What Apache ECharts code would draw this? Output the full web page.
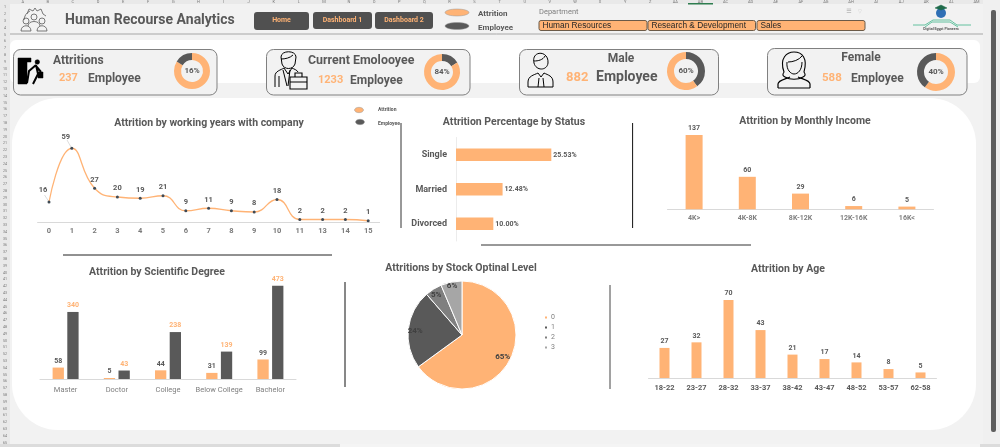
<!DOCTYPE html>
<html>
<head>
<meta charset="utf-8">
<title>Human Recourse Analytics</title>
<script src="https://cdn.jsdelivr.net/npm/echarts@6/dist/echarts.min.js"></script>
<style>
html, body { margin: 0; padding: 0; background: #f2f2f2; }
#main { width: 1000px; height: 447px; }
</style>
</head>
<body>
<div id="main"></div>
<script>
// data
var yearLabels = ['0','1','2','3','4','5','6','7','8','9','10','11','13','14','15'];
var yearValues = [16,59,27,20,19,21,9,11,9,8,18,2,2,2,1];
var statusLabels = ['Single','Married','Divorced'];
var statusValues = [25.53,12.48,10.00];
var incomeLabels = ['4K>','4K-8K','8K-12K','12K-16K','16K<'];
var incomeValues = [137,60,29,6,5];
var degreeLabels = ['Master','Doctor','College','Below College','Bachelor'];
var degreeAttrition = [58,5,44,31,99];
var degreeEmployee = [340,43,238,139,473];
var stockLabels = ['0','1','2','3'];
var stockValues = [154,56,12,15];
var ageLabels = ['18-22','23-27','28-32','33-37','38-42','43-47','48-52','53-57','62-58'];
var ageValues = [27,32,70,43,21,17,14,8,5];
var attritionTotal = 237;
var currentTotal = 1233;
var maleTotal = 882;
var femaleTotal = 588;
var departments = ['Human Resources','Research & Development','Sales'];

var ORANGE = '#FFB375';
var DARK = '#595959';
var FONT = 'Roboto';

var g = [];
var icons = [];
function rect(x, y, w, h, fill, r, stroke) {
	g.push({ type: 'rect', shape: { x: x, y: y, width: w, height: h, r: r || 0 }, style: { fill: fill, stroke: stroke || null, lineWidth: stroke ? 1 : 0 }, silent: true });
}
function line(x1, y1, x2, y2, color, w) {
	g.push({ type: 'line', shape: { x1: x1, y1: y1, x2: x2, y2: y2 }, style: { stroke: color, lineWidth: w || 1 }, silent: true });
}
function text(str, x, y, size, color, weight, align, font) {
	g.push({ type: 'text', x: x, y: y, z: 10, style: { text: str, fill: color, font: (weight || 'normal') + ' ' + size + 'px ' + (font || FONT), textAlign: align || 'left', textVerticalAlign: 'middle' }, silent: true });
}
function ellipse(cx, cy, rx, ry, fill) {
	g.push({ type: 'ellipse', shape: { cx: cx, cy: cy, rx: rx, ry: ry }, style: { fill: fill, stroke: '#9a9a9a', lineWidth: 0.5 }, silent: true });
}
// line-art icons are drawn by a custom series, graphic has no raw path type
function icon(d, color, fill, w) {
	icons.push({ d: d, color: color, fill: fill || 'none', w: w || 1 });
}

// white sheet areas
rect(10, 40, 970, 43, '#ffffff', 6);
rect(12, 98, 964, 332, '#ffffff', 46);

// excel chrome
rect(0, 0, 1000, 4, '#e9e9e9');
rect(0, 0, 10, 447, '#e9e9e9');
rect(688, 3, 25, 1.5, '#2e7d4f');
rect(983, 0, 17, 447, '#f0f0f0');
rect(991, 10, 5, 422, '#5f5f5f', 2);
rect(0, 444, 1000, 3, '#dcdcdc');
rect(340, 444, 640, 3, '#f4f4f4');
var colNames = 'A,B,C,D,E,F,G,H,I,J,K,L,M,N,O,P,Q,R,S,T,U,V,W,X,Y,Z,AA,AB,AC,AD,AE,AF,AG,AH,AI,AJ,AK,AL,AM'.split(',');
colNames.forEach(function (n, i) {
	text(n, 22.7 + i * 25.1, 2, 4, '#777777', 'normal', 'center');
});
for (var r = 1; r <= 65; r++) {
	text(String(r), 5, 7.4 + (r - 1) * 6.8, 3.6, '#777777', 'normal', 'center');
}

// header band
line(10, 34, 983, 34, '#a6a6a6', 1);
text('Human Recourse Analytics', 65, 20.5, 14, DARK, 'bold');
rect(254, 12, 55, 18, '#505050', 3);
rect(313, 12, 59, 17, '#505050', 3);
rect(375, 12, 58, 17, '#505050', 3);
text('Home', 281.5, 20, 7, ORANGE, 'bold', 'center');
text('Dashboard 1', 342.5, 20, 7, ORANGE, 'bold', 'center');
text('Dashboard 2', 404, 20, 7, ORANGE, 'bold', 'center');
ellipse(457, 12.5, 12, 3.5, ORANGE);
ellipse(457, 26, 12, 3.5, DARK);
text('Attrition', 478, 13.5, 8, DARK, 'bold');
text('Employee', 478, 27.5, 8, DARK, 'bold');
text('Department', 539, 12, 7.5, '#7f7f7f');
var slicerX = [539, 648, 757];
var slicerW = [108, 107.5, 108];
departments.forEach(function (d, i) {
	rect(slicerX[i], 20.5, slicerW[i], 10, ORANGE, 2, '#6b5a48');
	text(d, slicerX[i] + 3.5, 25.7, 8.3, '#262626', 'normal', 'left', 'Liberation Sans');
});
text('\u2630', 849, 11.5, 6, '#9a9a9a', 'normal', 'center', 'DejaVu Sans');
text('\u25BD', 860, 11.5, 5, '#cfcfcf', 'normal', 'center', 'DejaVu Sans');

// logo
g.push({ type: 'circle', shape: { cx: 941, cy: 13, r: 5 }, style: { fill: '#2f6fb5' }, silent: true });
icon('M935 8 L941 5 L947 8 L941 10 Z', '#1f6b4a', '#1f6b4a', 0.5);
icon('M913 25 L925 25 L933 20 L950 20 L957 25 L971 25 M925 27 L932 22 L950 22 L958 27', '#3fb58a', null, 0.8);
text('Digital Egypt Pioneers', 941, 29, 3.6, '#555555', 'bold', 'center');

// top-left gear with people
icon('M27 14 L29 9 L33 11 L35 8 L37 11 L41 9 L43 14 L46 16 M24 20 A11 11 0 0 1 30 11', DARK, null, 0.8);
icon('M31 17 a3 3 0 1 0 6 0 a3 3 0 1 0 -6 0 M28 26 C28 20 40 20 40 26', DARK, null, 0.8);
icon('M23 21 a3 3 0 1 0 6 0 a3 3 0 1 0 -6 0 M21 31 C21 24 31 24 31 31 Z', DARK, null, 0.8);
icon('M39 21 a3 3 0 1 0 6 0 a3 3 0 1 0 -6 0 M37 31 C37 24 47 24 47 31 Z', DARK, null, 0.8);

// KPI cards
rect(13.5, 49.5, 203.5, 45.5, '#f2f2f2', 7, '#808080');
rect(266.5, 49.5, 203.5, 45.5, '#f2f2f2', 7, '#808080');
rect(519.5, 49.5, 199, 45.5, '#f2f2f2', 7, '#808080');
rect(767.5, 48.5, 199.5, 46.5, '#f2f2f2', 7, '#808080');

text('Attritions', 53, 60.5, 12, DARK, 'bold');
text(String(attritionTotal), 59, 78.5, 11, ORANGE, 'bold');
text('Employee', 88, 78.5, 12, DARK, 'bold');
text('Current Emolooyee', 308, 60.5, 12.4, DARK, 'bold');
text(String(currentTotal), 318, 80.5, 11, ORANGE, 'bold');
text('Employee', 350, 80.5, 12, DARK, 'bold');
text('Male', 621, 58.5, 12, DARK, 'bold', 'center');
text(String(maleTotal), 566, 77.5, 13, ORANGE, 'bold');
text('Employee', 596, 77.5, 14, DARK, 'bold');
text('Female', 861, 57.5, 12, DARK, 'bold', 'center');
text(String(femaleTotal), 822, 78.5, 11.5, ORANGE, 'bold');
text('Employee', 851, 78.5, 12, DARK, 'bold');

// card icons
icon('M18 58 L31 58 L31 62 L27 62 L27 84 L18 84 Z', '#000000', '#000000', 0.5);
icon('M35 62 a2.3 2.3 0 1 0 4.6 0 a2.3 2.3 0 1 0 -4.6 0', '#000000', '#000000', 0.5);
icon('M36 65 L29 71 L27 83 M36 65 L38 74 L33 84 M36 66 L41 72', '#000000', null, 2);
icon('M38 72 L43 72 L43 78 L38 78 Z', '#000000', '#000000', 0.5);

icon('M281 57 C281 50 296 50 296 57 L295 64 C293 70 284 70 282 64 Z M281 59 C285 59 290 58 293 55', '#000000', null, 1);
icon('M275 87 L275 76 C275 71 281 70 284 68 L288 74 L292 68 C294 69 297 70 298 72 M279 76 L279 87 M283 70 L287 86 M290 70 L288 86', '#000000', null, 1);
icon('M290 77 L307 77 L307 89 L290 89 Z M295 77 L295 73 L302 73 L302 77 M290 82 L307 82', '#000000', '#f2f2f2', 1.1);

icon('M534 63 C531 50 549 50 548 63 C547 71 536 71 534 63 Z M534 61 C538 61 543 60 545 56', '#000000', null, 1);
icon('M528 87 L528 82 C528 76 534 75 538 73 L541 77 L544 73 C548 75 553 76 553 82 L553 87 Z M539 78 L538 87 M543 78 L544 87', '#000000', null, 1);

icon('M784 72 C779 58 787 52 794 52 C802 52 808 58 804 72 C806 75 805 76 803 77 C798 80 790 80 785 77 C783 76 782 75 784 72 Z', '#000000', null, 1.1);
icon('M788 62 C793 62 799 60 802 56 M787 62 C786 70 791 74 794 74 C798 74 802 70 802 62', '#000000', null, 1);
icon('M778 88 L778 84 C778 80 786 79 790 77 M810 88 L810 84 C810 80 802 79 798 77 M778 88 L810 88', '#000000', null, 1.2);

// divider rules
line(63, 255, 332, 255, '#222222', 1);
line(481, 245, 751, 245, '#333333', 1);
line(401, 123, 401, 228, '#333333', 1);
line(632.6, 123, 632.6, 228, '#111111', 1);
line(345, 282, 345, 387, '#111111', 1);
line(610, 285, 610, 389, '#444444', 1);

// leader ticks of the two moved line labels
line(44.5, 195, 48.5, 201, '#c4c4c4', 0.6);
line(67, 140, 71, 147, '#c4c4c4', 0.6);

// loose legend over the line chart
ellipse(359, 110, 4.5, 2.7, ORANGE);
ellipse(360, 122, 4.5, 2.7, DARK);
text('Attrition', 378, 109.5, 5, DARK, 'bold');
text('Employee', 378, 123.5, 5, DARK, 'bold');

function donut(cx, cy, radius, values, colors, pct) {
	text(pct, cx, cy - 0.5, 8, DARK, 'bold', 'center');
	return {
		type: 'pie', center: [cx, cy], radius: [radius - 7, radius], startAngle: 90, silent: true,
		label: { show: false }, labelLine: { show: false },
		data: values.map(function (v, i) {
			return { value: v, itemStyle: { color: colors[i] } };
		})
	};
}
var employeeAll = attritionTotal + currentTotal;
var genderAll = maleTotal + femaleTotal;
var donuts = [
	donut(192, 71, 18, [currentTotal, attritionTotal], [ORANGE, DARK], Math.round(attritionTotal / employeeAll * 100) + '%'),
	donut(442, 72, 18, [attritionTotal, currentTotal], [DARK, ORANGE], Math.round(currentTotal / employeeAll * 100) + '%'),
	donut(686, 71, 19, [femaleTotal, maleTotal], [DARK, ORANGE], Math.round(maleTotal / genderAll * 100) + '%'),
	donut(936, 72, 19, [maleTotal, femaleTotal], [ORANGE, DARK], Math.round(femaleTotal / genderAll * 100) + '%')
];

function chartTitle(str, x, y) {
	return { text: str, left: x, top: y - 4, padding: 0, textAlign: 'center', textStyle: { fontFamily: FONT, fontSize: 10.5, fontWeight: 'bold', color: DARK } };
}
function catAxis(idx, data, opt) {
	return Object.assign({
		type: 'category', gridIndex: idx, data: data,
		axisLine: { lineStyle: { color: '#d9d9d9' } }, axisTick: { show: false },
		axisLabel: { interval: 0, fontFamily: FONT, fontSize: 7.5, color: '#595959', fontWeight: 'bold', margin: 6 }
	}, opt || {});
}
function valAxis(idx, max, opt) {
	return Object.assign({ type: 'value', gridIndex: idx, min: 0, max: max, show: false, splitLine: { show: false } }, opt || {});
}
var valueLabel = { show: true, position: 'top', fontFamily: FONT, fontSize: 7, fontWeight: 'bold', color: '#595959', distance: 3 };

// per-point label nudges for the stock pie (best-fit placement in the original)
var pieOffsets = [[14, 8], [-17, -1], [-10, -15], [-4, -20]];
var pieColors = [ORANGE, DARK, '#7f7f7f', '#a6a6a6'];

var option = {
	animation: false,
	backgroundColor: '#f2f2f2',
	graphic: { elements: g },
	title: [
		chartTitle('Attrition by working years with company', 209, 122),
		chartTitle('Attrition Percentage by Status', 514, 121),
		chartTitle('Attrition by Monthly Income', 805, 120),
		chartTitle('Attrition by Scientific Degree', 157, 271),
		chartTitle('Attritions by Stock Optinal Level', 461, 267),
		chartTitle('Attrition by Age', 788, 268)
	],
	legend: {
		data: stockLabels, orient: 'vertical', left: 543, top: 314, padding: 0, selectedMode: false,
		icon: 'rect', itemWidth: 4, itemHeight: 4, itemGap: 3,
		textStyle: { fontFamily: FONT, fontSize: 7, color: '#7f7f7f', padding: [0, 0, 0, -2] }
	},
	grid: [
		{ left: 37.6, width: 342, top: 147, height: 75 },
		{ left: 456, width: 112, top: 137.5, height: 103.5 },
		{ left: 667.5, width: 266, top: 133.5, height: 75.8 },
		{ left: 40, width: 256, top: 280.4, height: 98.6 },
		{ left: 648.5, width: 288, top: 300, height: 78 }
	],
	xAxis: [
		catAxis(0, yearLabels, { axisLabel: { interval: 0, fontFamily: FONT, fontSize: 7.5, color: '#7a7a7a', fontWeight: 'bold', margin: 5 } }),
		valAxis(1, 30),
		catAxis(2, incomeLabels, { axisLabel: { interval: 0, fontFamily: FONT, fontSize: 7, color: '#7f7f7f', fontWeight: 'bold', margin: 5 } }),
		catAxis(3, degreeLabels, { axisLabel: { interval: 0, fontFamily: FONT, fontSize: 7.5, color: '#7f7f7f', margin: 7 } }),
		catAxis(4, ageLabels)
	],
	yAxis: [
		valAxis(0, 60),
		catAxis(1, statusLabels, { inverse: true, axisLine: { lineStyle: { color: '#ececec' } }, axisLabel: { interval: 0, fontFamily: FONT, fontSize: 9, color: '#595959', fontWeight: 'bold', margin: 9 } }),
		valAxis(2, 140),
		valAxis(3, 500),
		valAxis(4, 70)
	],
	series: donuts.concat([
		{
			type: 'line', xAxisIndex: 0, yAxisIndex: 0, data: yearValues, smooth: 0.5,
			symbol: 'circle', symbolSize: 3, itemStyle: { color: '#3f4a55' },
			lineStyle: { color: ORANGE, width: 1.3 },
			label: { show: true, position: 'top', fontFamily: FONT, fontSize: 7.5, fontWeight: 'bold', color: '#595959', distance: 3 },
			labelLayout: function (p) {
				if (p.dataIndex < 2) return { dx: -6, dy: -3 };
				return {};
			}
		},
		{
			type: 'bar', xAxisIndex: 1, yAxisIndex: 1, data: statusValues, barWidth: 12.7,
			itemStyle: { color: ORANGE },
			label: { show: true, position: 'right', distance: 2, fontFamily: FONT, fontSize: 7, fontWeight: 'bold', color: '#595959', formatter: function (p) { return p.value.toFixed(2) + '%'; } }
		},
		{
			type: 'bar', xAxisIndex: 2, yAxisIndex: 2, data: incomeValues, barWidth: 17,
			itemStyle: { color: ORANGE }, label: valueLabel
		},
		{
			type: 'bar', xAxisIndex: 3, yAxisIndex: 3, data: degreeAttrition, barWidth: 11.3, barGap: '30%',
			itemStyle: { color: ORANGE }, label: valueLabel
		},
		{
			type: 'bar', xAxisIndex: 3, yAxisIndex: 3, data: degreeEmployee, barWidth: 11.3, barGap: '30%',
			itemStyle: { color: DARK }, label: Object.assign({}, valueLabel, { color: ORANGE })
		},
		{
			type: 'pie', center: [462, 335], radius: [0, 54], startAngle: 90, percentPrecision: 0,
			itemStyle: { borderColor: '#ffffff', borderWidth: 1 },
			labelLayout: { hideOverlap: false },
			label: { position: 'inside', formatter: '{d}%', fontFamily: FONT, fontSize: 8, fontWeight: 'bold', color: '#404040' },
			data: stockValues.map(function (v, i) {
				return { name: stockLabels[i], value: v, itemStyle: { color: pieColors[i] }, label: { offset: pieOffsets[i] } };
			})
		},
		{
			type: 'bar', xAxisIndex: 4, yAxisIndex: 4, data: ageValues, barWidth: 10,
			itemStyle: { color: ORANGE }, label: valueLabel
		},
		{
			type: 'custom', coordinateSystem: 'none', silent: true, data: icons.map(function (c, i) { return i; }),
			renderItem: function (params) {
				var c = icons[params.dataIndex];
				return { type: 'path', shape: { pathData: c.d }, style: { fill: c.fill, stroke: c.color, lineWidth: c.w } };
			}
		}
	])
};

var myChart = echarts.init(document.getElementById('main'));
myChart.setOption(option);
</script>
</body>
</html>
